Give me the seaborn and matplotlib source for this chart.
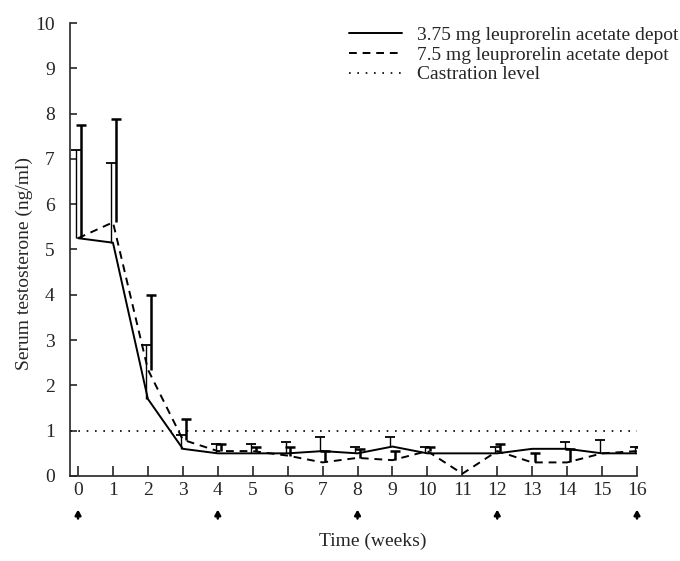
import numpy as np
import pandas as pd
import seaborn as sns
import matplotlib.pyplot as plt

sns.set_style("ticks")
plt.rcParams['font.family'] = ['Liberation Serif', 'DejaVu Serif']

weeks = list(range(17))
low_dose = [5.25, 5.15, 1.7, 0.6, 0.5, 0.5, 0.5, 0.55, 0.5, 0.65, 0.5, 0.5, 0.5, 0.6, 0.6, 0.5, 0.5]
high_dose = [5.25, 5.6, 2.35, 0.8, 0.55, 0.55, 0.45, 0.3, 0.4, 0.35, 0.55, 0.05, 0.55, 0.3, 0.3, 0.5, 0.55]
low_top = [7.2, 6.9, 2.9, 0.9, 0.7, 0.7, 0.75, 0.85, 0.65, 0.85, 0.65, np.nan, 0.65, np.nan, 0.75, 0.8, 0.65]
high_top = [7.75, 7.87, 4.0, 1.25, 0.7, 0.65, 0.65, 0.55, 0.6, 0.55, 0.65, np.nan, 0.7, 0.5, 0.6, np.nan, 0.65]
injection_weeks = [0, 4, 8, 12, 16]
castration = 1.0

lab_low = "3.75 mg leuprorelin acetate depot"
lab_high = "7.5 mg leuprorelin acetate depot"

df = pd.DataFrame({
    "week": weeks * 2,
    "value": low_dose + high_dose,
    "group": [lab_low] * len(weeks) + [lab_high] * len(weeks),
})

fig = plt.figure(figsize=(6.8, 5.61), dpi=100)
ax = fig.add_axes([70 / 680, 85 / 561, 567 / 680, 453 / 561])

sns.lineplot(data=df, x="week", y="value", hue="group", style="group",
             palette={lab_low: "black", lab_high: "black"},
             dashes={lab_low: "", lab_high: (4, 3)},
             linewidth=1.4, ax=ax, legend=False)

w = np.array(weeks, dtype=float)
ax.vlines(w - 0.06, low_dose, low_top, color="black", linewidth=1.0)
ax.scatter(w - 0.06, low_top, marker="_", s=45, color="black", linewidths=1.3)
ax.vlines(w + 0.08, high_dose, high_top, color="black", linewidth=1.8)
ax.scatter(w + 0.08, high_top, marker="_", s=45, color="black", linewidths=1.8)

ax.axhline(castration, color="black", linestyle=(0, (1, 4)), linewidth=1.2)

# legend handles
ax.plot([], [], color="black", linewidth=1.4, label=lab_low)
ax.plot([], [], color="black", linewidth=1.4, linestyle=(0, (4, 3)), label=lab_high)
ax.plot([], [], color="black", linewidth=1.2, linestyle=(0, (1, 4)), label="Castration level")
ax.legend(loc="upper right", bbox_to_anchor=(678 / 680, 1 - 26 / 561),
          bbox_transform=fig.transFigure, frameon=False, fontsize=14,
          borderpad=0, borderaxespad=0, handlelength=2.7, handletextpad=0.75,
          labelspacing=0.12)

# injection arrows under the axis
for wk in injection_weeks:
    ax.annotate("", xy=(wk, -0.68), xytext=(wk, -1.0), xycoords="data",
                annotation_clip=False,
                arrowprops=dict(arrowstyle="-|>,head_length=0.3,head_width=0.17",
                                color="black", linewidth=1.8))

ax.set_xlim(-0.23, 16)
ax.set_ylim(0, 10)
ax.set_xticks(weeks)
ax.set_yticks(range(11))
ax.tick_params(direction="in", width=1.2, labelsize=14)
ax.tick_params(axis="x", length=7, pad=4)
ax.tick_params(axis="y", length=5, pad=11)
sns.despine(ax=ax)
ax.spines["left"].set_linewidth(1.2)
ax.spines["bottom"].set_linewidth(1.2)

ax.set_xlabel("Time (weeks)", fontsize=14)
ax.set_ylabel("Serum testosterone (ng/ml)", fontsize=14)
ax.xaxis.set_label_coords(0.534, -0.125)
ax.yaxis.set_label_coords(-0.066, 0.47)

fig.savefig("out.png", dpi=100)
